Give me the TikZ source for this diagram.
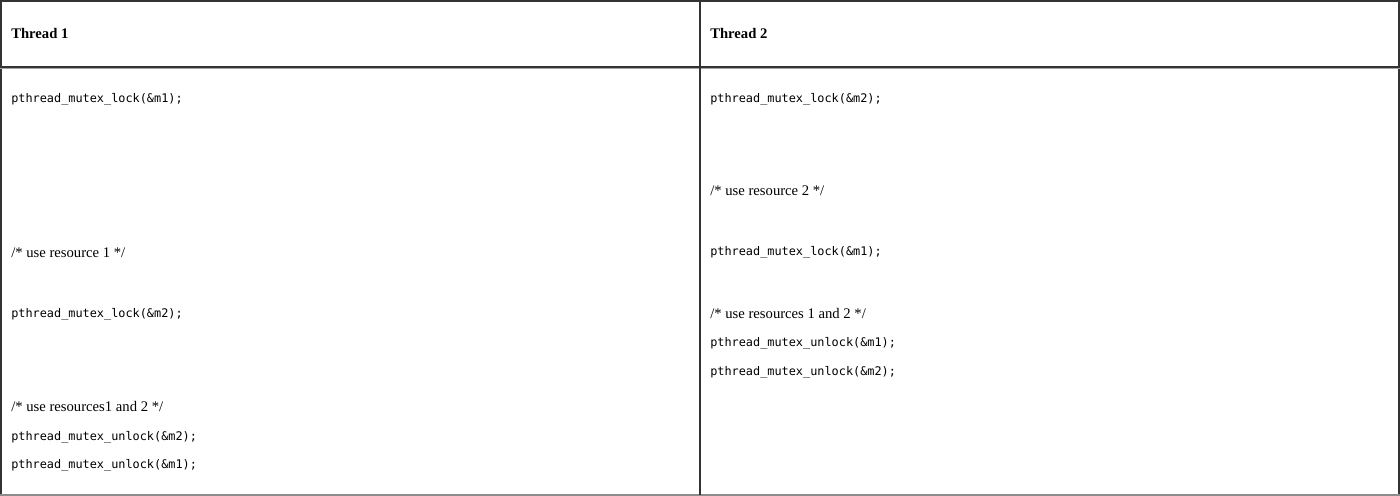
\documentclass[tikz,border=0pt]{standalone}
\usepackage{fontspec}
\setmainfont{Liberation Serif}
\setmonofont{DejaVu Sans Mono}
\usepackage{tikz}
\usepackage[svgnames]{xcolor}

\begin{document}
\begin{tikzpicture}
                        [
                            x=0.75pt, y=-0.75pt,
                            rule style/.style={line width=1.5pt, color=black!80},
                            head style/.style={anchor=west, inner sep=0pt, yshift=-0.5pt, font=\fontsize{11}{13}\selectfont\bfseries},
                            code style/.style={anchor=west, inner sep=0pt, yshift=-0.75pt, font=\fontsize{8.9}{11}\selectfont\ttfamily},
                            note style/.style={anchor=west, inner sep=0pt, yshift=-0.75pt, font=\fontsize{11}{13}\selectfont}
                        ]
                        \useasboundingbox (0,0) rectangle (1400,496);
                        \fill[white] (0,0) rectangle (1400,496);
                        % table rules
                        \draw[rule style] (1,495) -- (1,1) -- (1398.5,1) -- (1398.5,495);
                        \draw[line width=1.5pt, color=black!45] (0,494.5) -- (1400,494.5);
                        \draw[rule style] (0,66.5) -- (1400,66.5);
                        \draw[line width=0.6pt, color=black!35] (0,68.2) -- (1400,68.2);
                        \draw[rule style] (699.5,0) -- (699.5,495);
                        % headers
                        \node[head style] (headA) at (11,33) {Thread 1};
                        \node[head style] (headB) at (710,33) {Thread 2};
                        % thread 1
                        \node[code style] (lockA1) at (11,98) {pthread\_mutex\_lock(\&m1);};
                        \node[note style] (useA1) at (11,252) {/* use resource 1 */};
                        \node[code style] (lockA2) at (11,313) {pthread\_mutex\_lock(\&m2);};
                        \node[note style] (useA12) at (11,405) {/* use resources1 and 2 */};
                        \node[code style] (unlockA2) at (11,436) {pthread\_mutex\_unlock(\&m2);};
                        \node[code style] (unlockA1) at (11,464) {pthread\_mutex\_unlock(\&m1);};
                        % thread 2
                        \node[code style] (lockB2) at (710,98) {pthread\_mutex\_lock(\&m2);};
                        \node[note style] (useB2) at (710,190) {/* use resource 2 */};
                        \node[code style] (lockB1) at (710,251) {pthread\_mutex\_lock(\&m1);};
                        \node[note style] (useB12) at (710,312) {/* use resources 1 and 2 */};
                        \node[code style] (unlockB1) at (710,342) {pthread\_mutex\_unlock(\&m1);};
                        \node[code style] (unlockB2) at (710,371) {pthread\_mutex\_unlock(\&m2);};
                        \end{tikzpicture}
\end{document}
